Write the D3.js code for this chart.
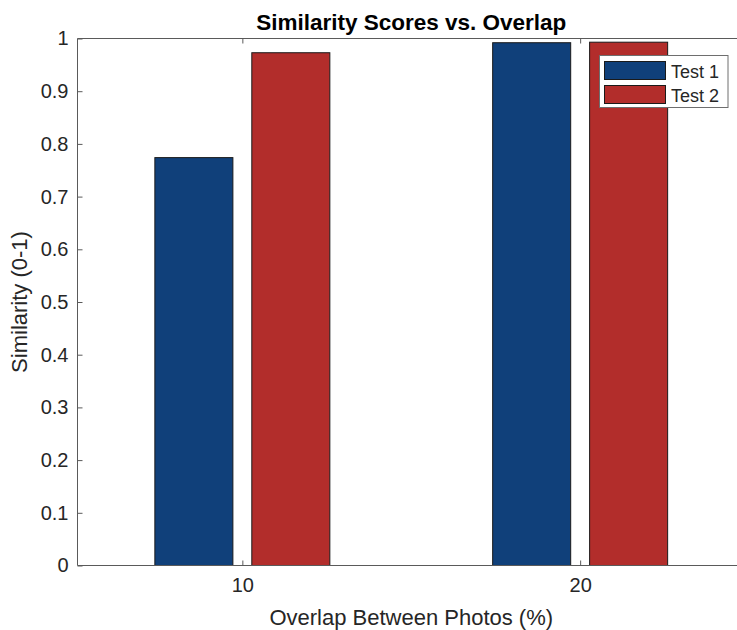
<!DOCTYPE html>
<html>
<head>
<meta charset="utf-8">
<script src="https://cdn.jsdelivr.net/npm/d3@7"></script>
<style>
  html, body { margin: 0; padding: 0; background: #fff; }
  svg text { font-family: "Liberation Sans", Arial, Helvetica, sans-serif; fill: #262626; }
</style>
</head>
<body>
<svg id="chart" width="737" height="630"></svg>
<script>
// ---- data ----
const categories = [10, 20];
const seriesNames = ["Test 1", "Test 2"];
const test1 = [0.774, 0.992];
const test2 = [0.973, 0.993];
const seriesColors = ["#10407a", "#b22d2b"];
const yTicks = [0, 0.1, 0.2, 0.3, 0.4, 0.5, 0.6, 0.7, 0.8, 0.9, 1];
const xTicks = [10, 20];
const titleText = "Similarity Scores vs. Overlap";
const xLabelText = "Overlap Between Photos (%)";
const yLabelText = "Similarity (0-1)";

(function () {
// ---- layout ----
const svg = d3.select("#chart");
const pLeft = 77.5, pRight = 745, pTop = 38.5, pBottom = 565.5;
const x = d3.scaleLinear().domain([5.12, 24.88]).range([pLeft, pRight]);
const y = d3.scaleLinear().domain([0, 1]).range([pBottom, pTop]);
const barW = 2.31;      // bar width in data units
const offset = 1.435;   // group offset in data units
const series = [test1, test2];

const g = svg.append("g");

// bars
series.forEach((vals, si) => {
  g.selectAll(null)
    .data(categories.map((c, i) => ({c, v: vals[i]})))
    .enter().append("rect")
    .attr("x", d => x(d.c + (si === 0 ? -offset : offset) - barW / 2))
    .attr("width", d => x(d.c + barW / 2) - x(d.c - barW / 2))
    .attr("y", d => y(d.v))
    .attr("height", d => y(0) - y(d.v))
    .attr("fill", seriesColors[si])
    .attr("stroke", "#1a1a1a")
    .attr("stroke-width", 1);
});

// axes box (left, bottom, top)
const axisColor = "#5a5a5a";
g.append("line").attr("x1", pLeft).attr("x2", pRight).attr("y1", pBottom).attr("y2", pBottom).attr("stroke", axisColor);
g.append("line").attr("x1", pLeft).attr("x2", pRight).attr("y1", pTop).attr("y2", pTop).attr("stroke", axisColor);
g.append("line").attr("x1", pLeft).attr("x2", pLeft).attr("y1", pTop).attr("y2", pBottom).attr("stroke", axisColor);

// y axis
const yAxis = d3.axisLeft(y).tickValues(yTicks).tickSizeInner(-5).tickSizeOuter(0)
  .tickPadding(9).tickFormat(d => d3.format("~g")(d));
const ya = svg.append("g").attr("transform", `translate(${pLeft},0)`).call(yAxis);
ya.select(".domain").remove();
ya.selectAll(".tick line").attr("stroke", axisColor);
ya.selectAll(".tick text").style("font-size", "20px").attr("fill", "#262626");

// x axis (bottom ticks inward) + top ticks
const xAxis = d3.axisBottom(x).tickValues(xTicks).tickSizeInner(-5).tickSizeOuter(0).tickPadding(12);
const xa = svg.append("g").attr("transform", `translate(0,${pBottom})`).call(xAxis);
xa.select(".domain").remove();
xa.selectAll(".tick line").attr("stroke", axisColor);
xa.selectAll(".tick text").style("font-size", "20px").attr("fill", "#262626");

const xaTop = svg.append("g").attr("transform", `translate(0,${pTop})`)
  .call(d3.axisTop(x).tickValues(xTicks).tickSizeInner(-5).tickSizeOuter(0).tickFormat(""));
xaTop.select(".domain").remove();
xaTop.selectAll(".tick line").attr("stroke", axisColor);

// title and labels
svg.append("text").attr("x", (pLeft + pRight) / 2).attr("y", 30).attr("text-anchor", "middle")
  .style("font-size", "22.5px").style("font-weight", "bold").style("fill", "#000").text(titleText);
svg.append("text").attr("x", (pLeft + pRight) / 2).attr("y", 625).attr("text-anchor", "middle")
  .style("font-size", "22px").text(xLabelText);
svg.append("text").attr("transform", `translate(27,${(pTop + pBottom) / 2}) rotate(-90)`)
  .attr("text-anchor", "middle").style("font-size", "22px").text(yLabelText);

// legend
const lg = svg.append("g");
lg.append("rect").attr("x", 599.5).attr("y", 55.5).attr("width", 128.5).attr("height", 52)
  .attr("fill", "#fff").attr("stroke", "#6e6e6e");
seriesNames.forEach((name, i) => {
  const yy = 61 + i * 24;
  lg.append("rect").attr("x", 604.5).attr("y", yy + 0.5).attr("width", 61).attr("height", 18)
    .attr("fill", seriesColors[i]).attr("stroke", "#1a1a1a");
  lg.append("text").attr("x", 671).attr("y", yy + 16.5).style("font-size", "18px").text(name);
});
})();
</script>
</body>
</html>
